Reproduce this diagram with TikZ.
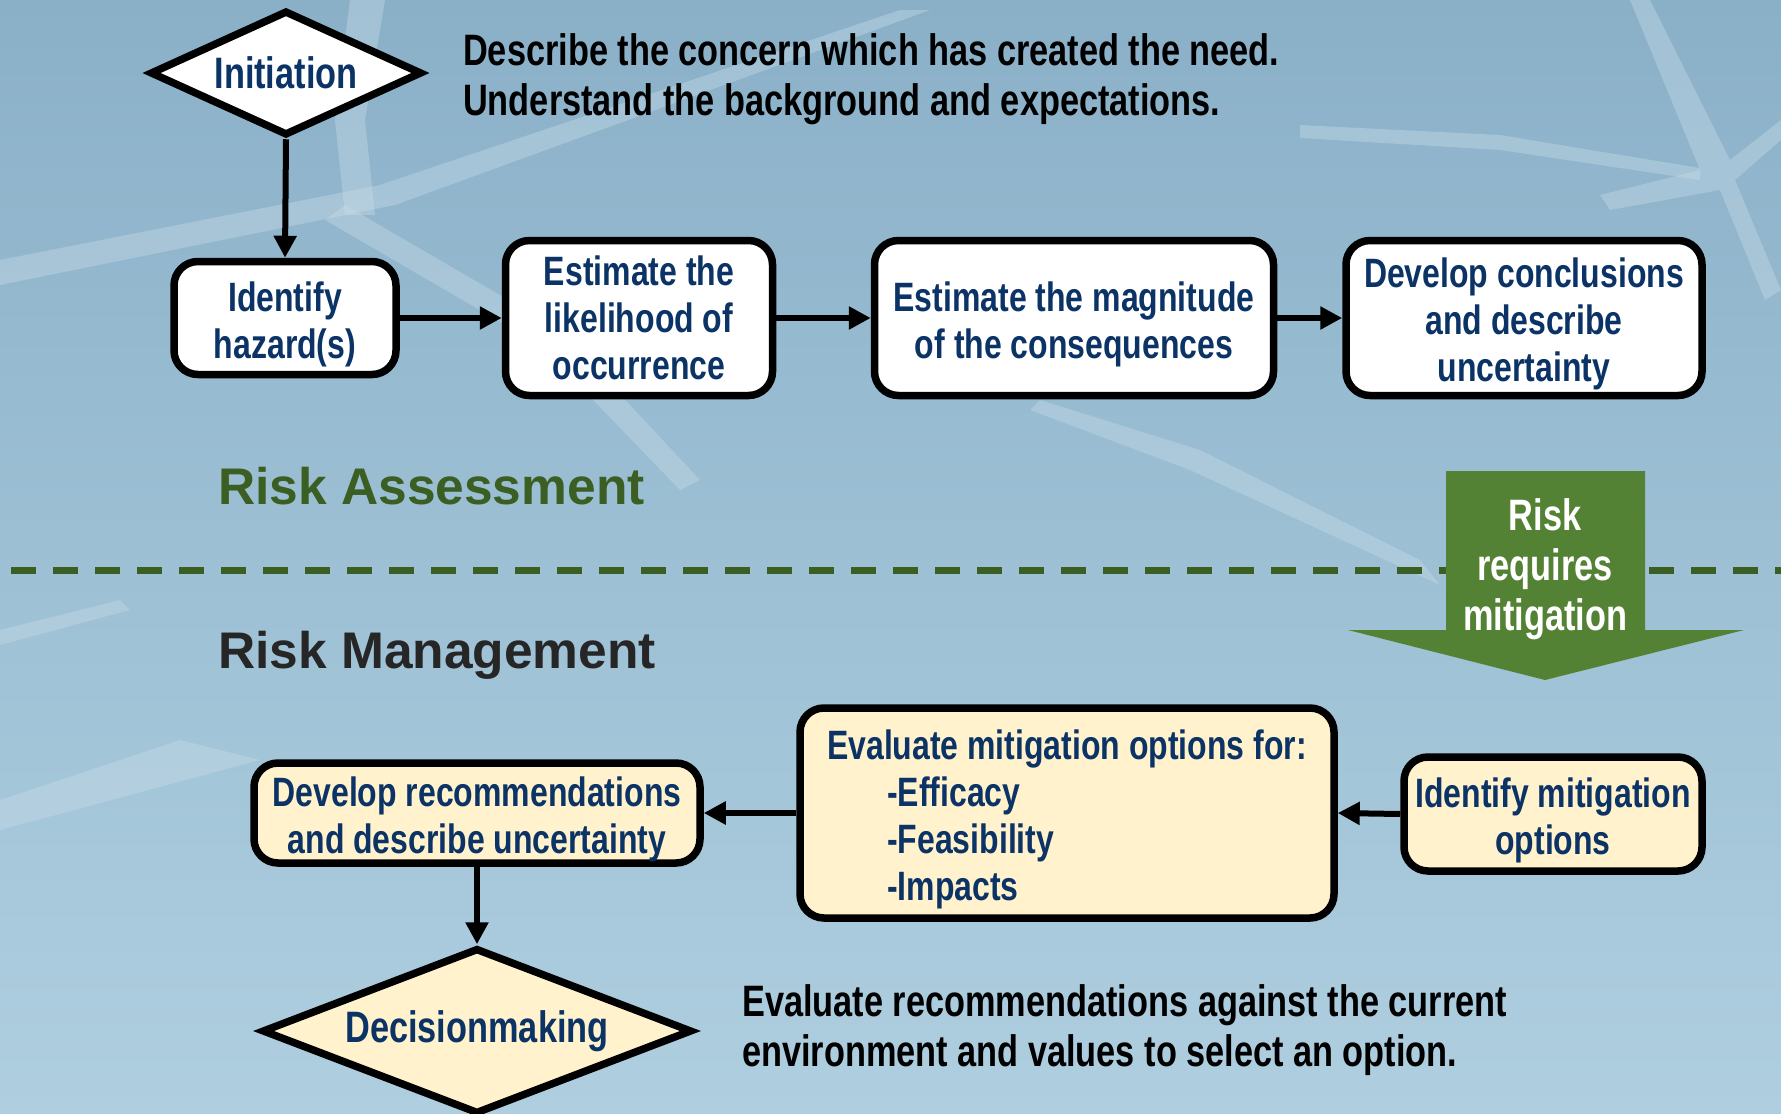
\documentclass[tikz,border=0pt]{standalone}
\usepackage{fontspec}
\setmainfont[FakeStretch=0.78]{Liberation Sans}
\newfontfamily\widefont{Liberation Sans}
\usetikzlibrary{shapes.geometric,arrows.meta}
\definecolor{navy}{HTML}{0B3366}
\definecolor{cream}{HTML}{FFF2CC}
\definecolor{arrgreen}{HTML}{548235}
\definecolor{dkgreen}{HTML}{3B5E22}
\definecolor{bgtop}{HTML}{8AB0C8}
\definecolor{bgbot}{HTML}{AFCFE0}
\definecolor{streak}{HTML}{C8DCE8}
\newcommand\firstline{\rule{0pt}{42pt}}
\begin{document}
\begin{tikzpicture}[x=1pt,y=-1pt,
  box/.style={draw=black,line width=7.5pt,rounded corners=24pt,fill=white,
    text=navy,font=\fontsize{41}{47}\selectfont\bfseries,align=center,inner sep=0pt},
  cbox/.style={box,fill=cream},
  dia/.style={diamond,draw=black,line width=7.5pt,fill=white,text=navy,
    font=\fontsize{44}{50}\selectfont\bfseries,inner sep=0pt},
  note/.style={text=black,font=\fontsize{44}{50}\selectfont\bfseries,align=left,anchor=west,inner sep=0pt},
  conn/.style={line width=6pt,-{Triangle[length=22pt,width=22pt]}},
  heading/.style={font=\widefont\fontsize{51.5}{60}\selectfont\bfseries,anchor=west,inner sep=0pt}
]
\useasboundingbox (0,0) rectangle (1781,1114);
% background
\shade[top color=bgtop,bottom color=bgbot] (0,0) rectangle (1781,1114);
\begin{scope}[fill=streak,opacity=0.4]
  \fill (350,0) -- (385,0) -- (365,120) -- (375,215) -- (345,215) -- (335,120) -- cycle;
  \fill (0,260) -- (380,185) -- (900,10) -- (930,10) -- (395,205) -- (0,285) -- cycle;
  \fill (345,205) -- (560,330) -- (700,480) -- (680,490) -- (540,345) -- (325,220) -- cycle;
  \fill (1630,0) -- (1650,0) -- (1730,160) -- (1781,120) -- (1781,140) -- (1735,180) -- (1781,290) -- (1765,300) -- (1720,190) -- (1610,210) -- (1600,195) -- (1700,170) -- cycle;
  \fill (1300,125) -- (1500,135) -- (1700,168) -- (1700,180) -- (1500,150) -- (1300,138) -- cycle;
  \fill (1040,400) -- (1200,450) -- (1420,560) -- (1440,585) -- (1190,470) -- (1030,410) -- cycle;
  \fill (0,630) -- (120,600) -- (130,610) -- (0,645) -- cycle;
  \fill (0,800) -- (180,740) -- (260,760) -- (0,830) -- cycle;
\end{scope}

% dashed separator
\draw[dkgreen,line width=7pt,dash pattern=on 25pt off 17pt] (11,570) -- (1781,570);

% top part
\node[dia,shape aspect=2.2,minimum width=272pt,minimum height=125pt] (init) at (286,73) {Initiation};
\node[note] (n1) at (463,79.5) {Describe the concern which has created the need.\\Understand the background and expectations.};

\node[box,minimum width=222pt,minimum height=113pt] (hz) at (285,318) {\firstline Identify\\hazard(s)};
\node[box,minimum width=267pt,minimum height=155pt] (lk) at (639,318) {Estimate the\\likelihood of\\occurrence};
\node[box,minimum width=399pt,minimum height=155pt] (mg) at (1074,318) {\firstline Estimate the magnitude\\of the consequences};
\node[box,minimum width=356pt,minimum height=155pt] (cc) at (1524,318) {\firstline Develop conclusions\\and describe\\uncertainty};

\draw[conn] (init.south) -- (hz.north);
\draw[conn] (hz.east) -- (lk.west);
\draw[conn] (lk.east) -- (mg.west);
\draw[conn] (mg.east) -- (cc.west);

\node[heading,text=dkgreen] (ra) at (218,486) {Risk Assessment};
\node[heading,text=black!85] (rm) at (218,655) {Risk Management};

% green block arrow
\fill[arrgreen] (1446,471) -- (1645,471) -- (1645,630) -- (1744,630) -- (1545,680) -- (1348,630) -- (1446,630) -- cycle;
\node[text=white,font=\fontsize{44}{50}\selectfont\bfseries,align=center,inner sep=0pt] (rr) at (1545,569.5) {Risk\\requires\\mitigation};

% lower part
\node[cbox,minimum width=446pt,minimum height=100pt] (dr) at (477,813) {\firstline Develop recommendations\\and describe uncertainty};
\node[cbox,minimum width=534pt,minimum height=210pt,align=left] (ev) at (1067,813) {\firstline Evaluate mitigation options for:\\\hspace*{60pt}-Efficacy\\\hspace*{60pt}-Feasibility\\\hspace*{60pt}-Impacts};
\node[cbox,minimum width=298pt,minimum height=114pt] (im) at (1553,814) {\firstline Identify mitigation\\options};
\node[dia,fill=cream,shape aspect=2.6,minimum width=430pt,minimum height=166pt] (dm) at (477,1031) {Decisionmaking};

\draw[conn] (im.west) -- (ev.east);
\draw[conn] (ev.west) -- (dr.east);
\draw[conn] (dr.south) -- (dm.north);

\node[note] (n2) at (742,1030.5) {Evaluate recommendations against the current\\environment and values to select an option.};
\end{tikzpicture}
\end{document}
